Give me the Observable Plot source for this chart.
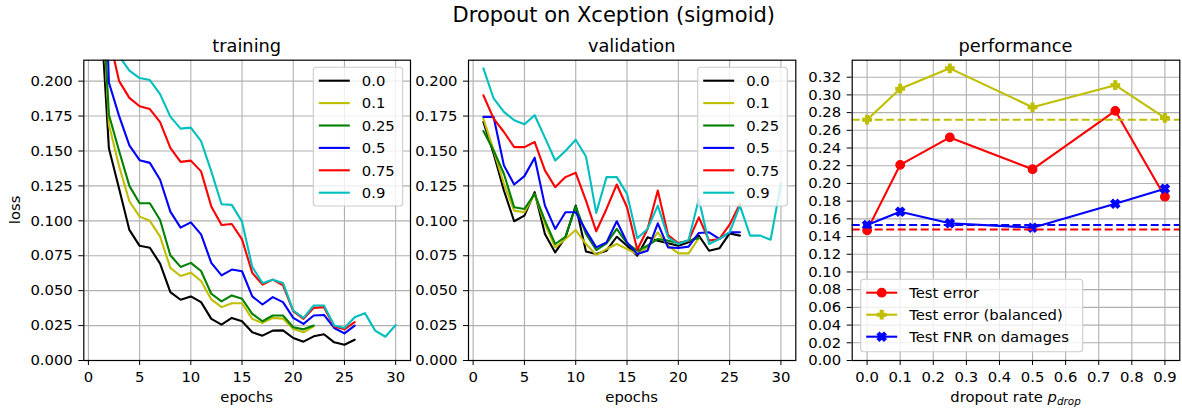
<!DOCTYPE html>
<html>
<head>
<meta charset="utf-8">
<script src="https://cdn.jsdelivr.net/npm/d3@7"></script>
<script src="https://cdn.jsdelivr.net/npm/@observablehq/plot@0.6"></script>
<style>
  body { margin: 0; background: #fff; }
  #fig { position: relative; width: 1182px; height: 412px; overflow: hidden; background: #fff;
         font-family: "DejaVu Sans", sans-serif; }
</style>
</head>
<body>
<div id="fig"></div>
<script>
// ---- tick positions ----
const epochTicks = [0, 5, 10, 15, 20, 25, 30];
const lossTicks = [0, 0.025, 0.05, 0.075, 0.1, 0.125, 0.15, 0.175, 0.2];
const rateTicks = [0, 0.1, 0.2, 0.3, 0.4, 0.5, 0.6, 0.7, 0.8, 0.9];
const scoreTicks = [0, 0.02, 0.04, 0.06, 0.08, 0.1, 0.12, 0.14, 0.16, 0.18, 0.2, 0.22, 0.24, 0.26, 0.28, 0.3, 0.32];

// ---- dropout settings ----
const dropoutLabels = ["0.0", "0.1", "0.25", "0.5", "0.75", "0.9"];
const seriesColors = ["#000000", "#bfbf00", "#008000", "#0000ff", "#ff0000", "#00bfbf"];

// ---- training loss per epoch (epoch 1, 2, ...) ----
const train00 = [0.275, 0.152, 0.123, 0.0935, 0.0821, 0.0807, 0.0694, 0.049, 0.0435, 0.0459, 0.0418, 0.0298, 0.0257, 0.0305, 0.0281, 0.0202, 0.0178, 0.0214, 0.0216, 0.0161, 0.0135, 0.0173, 0.0188, 0.013, 0.0113, 0.0149];
const train01 = [0.31, 0.169, 0.139, 0.114, 0.103, 0.100, 0.0887, 0.0663, 0.0605, 0.0629, 0.0569, 0.0437, 0.0382, 0.041, 0.041, 0.0298, 0.0269, 0.0305, 0.030, 0.0226, 0.0202, 0.0245];
const train025 = [0.31, 0.176, 0.150, 0.125, 0.1126, 0.1126, 0.1006, 0.0754, 0.067, 0.0699, 0.0641, 0.0478, 0.0423, 0.0466, 0.0442, 0.0334, 0.0281, 0.0322, 0.0322, 0.0238, 0.0223, 0.025];
const train05 = [0.42, 0.199, 0.175, 0.154, 0.1434, 0.1415, 0.1294, 0.1066, 0.0951, 0.0989, 0.0903, 0.0699, 0.061, 0.0651, 0.0639, 0.0459, 0.0401, 0.0454, 0.0418, 0.0305, 0.0262, 0.0322, 0.0326, 0.0233, 0.0194, 0.025];
const train075 = [0.36, 0.232, 0.200, 0.188, 0.182, 0.180, 0.1707, 0.1523, 0.1422, 0.1431, 0.1354, 0.1102, 0.097, 0.0977, 0.0867, 0.0627, 0.0543, 0.0579, 0.0538, 0.0353, 0.0298, 0.0377, 0.0382, 0.0243, 0.0223, 0.0274];
const train09 = [0.38, 0.262, 0.218, 0.2075, 0.2022, 0.2008, 0.1907, 0.1746, 0.166, 0.1667, 0.157, 0.1354, 0.1119, 0.1114, 0.0994, 0.067, 0.0555, 0.0579, 0.0555, 0.0358, 0.0305, 0.0394, 0.0394, 0.025, 0.0233, 0.031, 0.0339, 0.0214, 0.017, 0.0254];

// ---- validation loss per epoch ----
const val00 = [0.1708, 0.148, 0.1217, 0.0997, 0.1037, 0.1205, 0.0906, 0.0774, 0.0882, 0.1109, 0.0781, 0.0762, 0.0786, 0.0886, 0.0822, 0.075, 0.0882, 0.0858, 0.0839, 0.0822, 0.0846, 0.0894, 0.0786, 0.0803, 0.091, 0.0894];
const val01 = [0.1732, 0.1504, 0.1265, 0.1073, 0.1061, 0.1193, 0.0977, 0.081, 0.087, 0.0934, 0.0834, 0.0755, 0.0798, 0.0834, 0.0798, 0.0762, 0.081, 0.0918, 0.0822, 0.0767, 0.0767, 0.0877];
const val025 = [0.1643, 0.1504, 0.1337, 0.1097, 0.1085, 0.1193, 0.1001, 0.0834, 0.0886, 0.1104, 0.0906, 0.0791, 0.0839, 0.0942, 0.0839, 0.0786, 0.0822, 0.087, 0.0858, 0.0841, 0.0858, 0.0875];
const val05 = [0.1744, 0.1744, 0.1397, 0.126, 0.132, 0.1452, 0.1109, 0.0942, 0.1061, 0.1061, 0.093, 0.081, 0.0846, 0.0997, 0.0846, 0.0762, 0.0786, 0.0982, 0.081, 0.0805, 0.0815, 0.0913, 0.0918, 0.087, 0.0918, 0.0918];
const val075 = [0.1899, 0.1732, 0.1636, 0.1528, 0.1528, 0.1564, 0.1361, 0.1241, 0.1313, 0.1344, 0.1145, 0.0925, 0.1085, 0.126, 0.1097, 0.0793, 0.0942, 0.1217, 0.0898, 0.0839, 0.0858, 0.1025, 0.0858, 0.087, 0.0973, 0.1121];
const val09 = [0.2091, 0.1876, 0.178, 0.172, 0.1691, 0.1756, 0.1596, 0.1432, 0.15, 0.1581, 0.1461, 0.1057, 0.1313, 0.1313, 0.1193, 0.0875, 0.0942, 0.1109, 0.0882, 0.0834, 0.0863, 0.1157, 0.0834, 0.087, 0.0918, 0.1109, 0.0894, 0.0894, 0.0865, 0.1265];

// ---- test performance vs dropout rate ----
const dropRates = [0, 0.1, 0.25, 0.5, 0.75, 0.9];
const testError = [0.147, 0.221, 0.252, 0.216, 0.282, 0.185];
const testErrorBalanced = [0.272, 0.307, 0.330, 0.286, 0.311, 0.274];
const testFNR = [0.153, 0.168, 0.155, 0.150, 0.177, 0.194];
// reference levels (no-dropout model), drawn as dashed lines
const refTestError = 0.148;
const refTestErrorBalanced = 0.272;
const refTestFNR = 0.153;

const perfLabels = ["Test error", "Test error (balanced)", "Test FNR on damages"];
const perfColors = ["#ff0000", "#bfbf00", "#0000ff"];

// ---- shared layout ----
const H = 412, MT = 59.7, MB = 52;
const FONT = "DejaVu Sans";
const TICK_FS = 14.8;
const GRID = "#b0b0b0";
const LW = 2.1;

// filled "plus" and filled "x" marker shapes
function plusPath(context, r, angle) {
  const a = r / 3;
  const pts = [[-a,-r],[a,-r],[a,-a],[r,-a],[r,a],[a,a],[a,r],[-a,r],[-a,a],[-r,a],[-r,-a],[-a,-a]];
  const c = Math.cos(angle), s = Math.sin(angle);
  pts.forEach(([x, y], i) => {
    const px = x * c - y * s, py = x * s + y * c;
    if (i === 0) context.moveTo(px, py); else context.lineTo(px, py);
  });
  context.closePath();
}
const plusFilled = { draw(context, size) { plusPath(context, Math.sqrt(size / Math.PI), 0); } };
const xFilled = { draw(context, size) { plusPath(context, Math.sqrt(size / Math.PI) * 1.1, Math.PI / 4); } };
const perfSymbols = ["circle", plusFilled, xFilled];
const MARKER_R = 4.3;

const fig = document.getElementById("fig");
function place(node, left) {
  node.style.position = "absolute";
  node.style.left = left + "px";
  node.style.top = "0px";
  fig.appendChild(node);
}

const baseStyle = { background: "transparent", fontFamily: FONT, fontSize: TICK_FS + "px", color: "#000", overflow: "visible" };

function lossPanel(series, width, mL, mR) {
  const marks = [
    Plot.ruleX(epochTicks, { stroke: GRID, strokeWidth: 1.1 }),
    Plot.ruleY(lossTicks, { stroke: GRID, strokeWidth: 1.1 })
  ];
  series.forEach((vals, k) => {
    marks.push(Plot.line(vals.map((v, i) => ({ epoch: i + 1, loss: v })),
      { x: "epoch", y: "loss", stroke: seriesColors[k], strokeWidth: LW, clip: true }));
  });
  marks.push(Plot.frame({ stroke: "#000", strokeWidth: 1.2 }));
  return Plot.plot({
    width, height: H, marginLeft: mL, marginRight: mR, marginTop: MT, marginBottom: MB,
    style: baseStyle,
    x: { domain: [-0.45, 31.45], ticks: epochTicks, tickSize: 5, tickPadding: 6, label: null },
    y: { domain: [0, 0.215], ticks: lossTicks, tickFormat: d3.format(".3f"), tickSize: 5, tickPadding: 6, label: null },
    marks
  });
}

// training panel
place(lossPanel([train00, train01, train025, train05, train075, train09], 420, 83.3, 10), 0);
// validation panel
place(lossPanel([val00, val01, val025, val05, val075, val09], 395, 58, 9.7), 410);

// performance panel
{
  const perfSeries = [testError, testErrorBalanced, testFNR];
  const refs = [refTestError, refTestErrorBalanced, refTestFNR];
  const marks = [
    Plot.ruleX(rateTicks, { stroke: GRID, strokeWidth: 1.1 }),
    Plot.ruleY(scoreTicks, { stroke: GRID, strokeWidth: 1.1 })
  ];
  perfSeries.forEach((vals, k) => {
    const rows = vals.map((v, i) => ({ rate: dropRates[i], value: v }));
    marks.push(Plot.line(rows, { x: "rate", y: "value", stroke: perfColors[k], strokeWidth: LW }));
    marks.push(Plot.dot(rows, { x: "rate", y: "value", r: MARKER_R, symbol: perfSymbols[k],
      fill: perfColors[k], stroke: perfColors[k], strokeWidth: 1.2 }));
  });
  refs.forEach((v, k) => {
    marks.push(Plot.ruleY([v], { stroke: perfColors[k], strokeWidth: LW, strokeDasharray: "8,3.5" }));
  });
  marks.push(Plot.frame({ stroke: "#000", strokeWidth: 1.2 }));
  place(Plot.plot({
    width: 382, height: H, marginLeft: 51.7, marginRight: 2.7, marginTop: MT, marginBottom: MB,
    style: baseStyle,
    x: { domain: [-0.045, 0.945], ticks: rateTicks, tickFormat: d3.format(".1f"), tickSize: 5, tickPadding: 6, label: null },
    y: { domain: [0, 0.3392], ticks: scoreTicks, tickFormat: d3.format(".2f"), tickSize: 5, tickPadding: 6, label: null },
    marks
  }), 800);
}

// ---- titles, axis labels and legends ----
const overlay = d3.create("svg")
  .attr("width", 1182).attr("height", 412)
  .style("position", "absolute").style("left", "0px").style("top", "0px")
  .style("pointer-events", "none")
  .attr("font-family", FONT).attr("fill", "#000");
fig.appendChild(overlay.node());

overlay.append("text").attr("x", 613.8).attr("y", 21.5).attr("text-anchor", "middle")
  .attr("font-size", 21).text("Dropout on Xception (sigmoid)");
[["training", 246.7], ["validation", 631.7], ["performance", 1015.5]].forEach(([t, x]) => {
  overlay.append("text").attr("x", x).attr("y", 51.7).attr("text-anchor", "middle")
    .attr("font-size", 17.8).text(t);
});
overlay.append("text").attr("transform", "translate(20,209.9) rotate(-90)")
  .attr("text-anchor", "middle").attr("font-size", TICK_FS).text("loss");
[246.7, 631.7].forEach(x => {
  overlay.append("text").attr("x", x).attr("y", 401.7).attr("text-anchor", "middle")
    .attr("font-size", TICK_FS).text("epochs");
});
{
  const t = overlay.append("text").attr("x", 1015.5).attr("y", 401.7)
    .attr("text-anchor", "middle").attr("font-size", TICK_FS);
  t.append("tspan").text("dropout rate ");
  t.append("tspan").attr("font-style", "italic").text("p");
  t.append("tspan").attr("font-style", "italic").attr("font-size", 10.4).attr("dy", 3).text("drop");
}

function legend(box, items) {
  const g = overlay.append("g");
  g.append("rect").attr("x", box.x).attr("y", box.y).attr("width", box.w).attr("height", box.h)
    .attr("rx", 3).attr("fill", "#fff").attr("fill-opacity", 0.8)
    .attr("stroke", "#cccccc").attr("stroke-width", 1.1);
  items.forEach((it, i) => {
    const y = box.y + 13.4 + i * box.step;
    g.append("line").attr("x1", box.x + 5.5).attr("x2", box.x + 36.5)
      .attr("y1", y).attr("y2", y).attr("stroke", it.color).attr("stroke-width", LW);
    if (it.symbol) {
      const sym = typeof it.symbol === "string" ? d3.symbolCircle : it.symbol;
      g.append("path").attr("transform", `translate(${box.x + 21},${y})`)
        .attr("d", d3.symbol(sym, Math.PI * MARKER_R * MARKER_R)())
        .attr("fill", it.color).attr("stroke", it.color).attr("stroke-width", 1.2);
    }
    g.append("text").attr("x", box.x + 48.5).attr("y", y).attr("dy", "0.36em")
      .attr("font-size", TICK_FS).text(it.label);
  });
}
const lossItems = dropoutLabels.map((l, i) => ({ label: l, color: seriesColors[i] }));
legend({ x: 313.3, y: 67.3, w: 89.4, h: 138.7, step: 22.4 }, lossItems);
legend({ x: 697.7, y: 67.3, w: 89.6, h: 138.7, step: 22.4 }, lossItems);
legend({ x: 860.7, y: 279.3, w: 222, h: 72.4, step: 22 },
  perfLabels.map((l, i) => ({ label: l, color: perfColors[i], symbol: perfSymbols[i] })));
</script>
</body>
</html>
